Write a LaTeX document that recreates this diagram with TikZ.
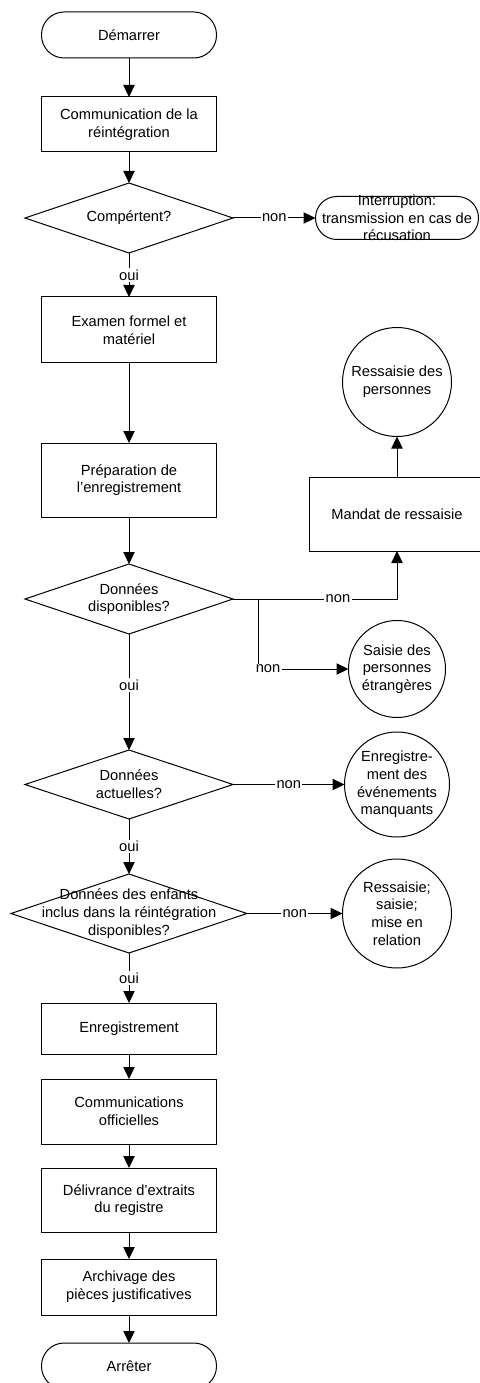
\documentclass[tikz,border=0pt]{standalone}
\usepackage{fontspec}
\setmainfont{Liberation Sans}
\usetikzlibrary{positioning,shapes.geometric,arrows.meta}

\tikzset{
  terminal/.style={draw, rectangle, rounded corners=17pt, minimum width=131.25pt, minimum height=34.5pt},
  process/.style={draw, rectangle, align=center, minimum width=131.25pt},
  decision/.style={draw, diamond, inner sep=0pt, minimum width=156pt, minimum height=52.5pt},
  outcome/.style={draw, circle, align=center, inner sep=0pt},
  flow/.style={-{Triangle[length=9pt,width=8.5pt]}},
  answer/.style={fill=white, inner sep=1pt},
}

\begin{document}
\begin{tikzpicture}[x=0.75pt, y=-0.75pt, line width=0.75pt, outer sep=0pt, font=\fontsize{11}{13.3}\selectfont]
 \useasboundingbox (0,0) rectangle (479,1383);
 \node[terminal] (start) at (129,35) {Démarrer};
 \node[process, minimum height=41.25pt, below=29.25pt of start] (notice) {Communication de la\\réintégration};
 \node[decision, below=23.25pt of notice, label={center:Compértent?}] (competent) {};
 \node[process, minimum height=49.5pt, below=33pt of competent] (exam) {Examen formel et\\matériel};
 \node[process, minimum height=55.5pt, below=60pt of exam] (prep) {Préparation de\\l’enregistrement};
 \node[decision, below=35.25pt of prep, label={[align=center]center:{Données\\disponibles?}}] (available) {};
 \node[decision, minimum height=51.75pt, below=87pt of available, label={[align=center]center:{Données\\actuelles?}}] (current) {};
 \node[decision, minimum width=177pt, minimum height=59.25pt, below=41.25pt of current, label={[align=center]center:{Données des enfants\\inclus dans la réintégration\\disponibles?}}] (children) {};
 \node[process, minimum height=38.25pt, below=37.5pt of children] (record) {Enregistrement};
 \node[process, minimum height=48.75pt, below=18.75pt of record] (official) {Communications\\officielles};
 \node[process, minimum height=48pt, below=18pt of official] (extract) {Délivrance d’extraits\\du registre};
 \node[process, minimum height=42pt, below=20.25pt of extract] (archive) {Archivage des\\pièces justificatives};
 \node[terminal, below=21pt of archive] (stop) {Arrêter};

 \coordinate (rcol) at (397,0);
 \node[terminal, minimum width=122.25pt, minimum height=32.25pt, rounded corners=16pt, label={[align=center]center:{Interruption:\\transmission en cas de\\récusation}}] (interrupt) at (competent -| rcol) {};
 \node[outcome, minimum size=81.75pt] (reseize) at (397,382) {Ressaisie des\\personnes};
 \node[process, minimum height=55.5pt] (warrant) at (397,514) {Mandat de ressaisie};
 \node[outcome, minimum size=72.75pt] (foreign) at (397,669) {Saisie des\\personnes\\étrangères};
 \node[outcome, minimum size=78.75pt] (missing) at (current -| rcol) {Enregistre-\\ment des\\événements\\manquants};
 \node[outcome, minimum size=81.75pt] (relate) at (children -| rcol) {Ressaisie;\\saisie;\\mise en\\relation};

 \draw[flow] (start) -- (notice);
 \draw[flow] (notice) -- (competent);
 \draw[flow] (competent) -- node[answer] {non} (interrupt);
 \draw[flow] (competent) -- node[answer] {oui} (exam);
 \draw[flow] (exam) -- (prep);
 \draw[flow] (prep) -- (available);
 \draw[flow] (available.east) -| node[answer, pos=0.32] {non} (warrant);
 \draw[flow] (available.east) -- ++(25,0) |- node[answer, pos=0.5, xshift=7.5pt] {non} (foreign);
 \draw[flow] (warrant) -- (reseize);
 \draw[flow] (available) -- node[answer, pos=0.44] {oui} (current);
 \draw[flow] (current) -- node[answer] {non} (missing);
 \draw[flow] (current) -- node[answer] {oui} (children);
 \draw[flow] (children) -- node[answer] {non} (relate);
 \draw[flow] (children) -- node[answer] {oui} (record);
 \draw[flow] (record) -- (official);
 \draw[flow] (official) -- (extract);
 \draw[flow] (extract) -- (archive);
 \draw[flow] (archive) -- (stop);
\end{tikzpicture}
\end{document}
